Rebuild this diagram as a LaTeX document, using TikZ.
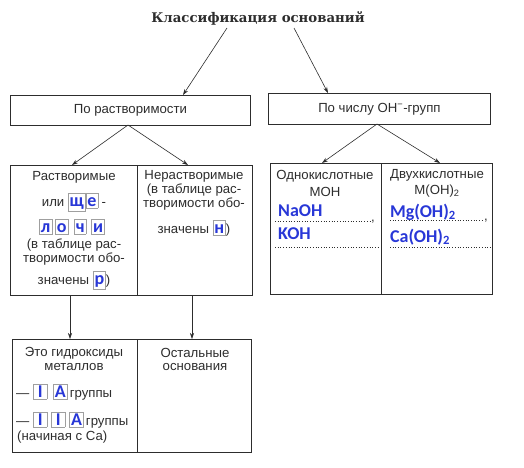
\documentclass[tikz,border=0pt]{standalone}
\usepackage{fontspec}
\setmainfont{Liberation Sans}
\newfontfamily\titlefont{DejaVu Serif}
\newfontfamily\hwfont{Carlito}
\usetikzlibrary{arrows.meta}
\definecolor{hwblue}{RGB}{40,55,215}
\definecolor{ink}{RGB}{45,45,45}
\newcommand\hbx[1]{{\fboxsep=1.2pt\fboxrule=0.5pt\fcolorbox{gray!75}{white}{\rule{0pt}{12pt}\hwfont\bfseries\fontsize{18}{18}\selectfont\color{hwblue}#1}}}
\newcommand\hw[1]{{\hwfont\bfseries\fontsize{18}{18}\selectfont\color{hwblue}#1}}
\begin{document}
\begin{tikzpicture}[x=1pt,y=-1pt,
  box/.style={draw=ink,line width=0.8pt,inner sep=0pt,anchor=north west},
  txt/.style={inner sep=0pt,font=\fontsize{13.2}{14}\selectfont,text=ink},
  arr/.style={draw=ink,line width=0.6pt,-{Stealth[length=6pt,width=4pt]}},
  dots/.style={draw=ink,dotted,line width=0.7pt}]
\useasboundingbox (0,0) rectangle (524,467);
% title
\node[inner sep=0pt,font=\titlefont\bfseries\fontsize{13.3}{15}\selectfont,text=ink] (title) at (258,18) {Классификация оснований};
\coordinate (t1) at (227,28);
\coordinate (t2) at (294,28);
% level 1
\node[box,minimum width=240pt,minimum height=30pt] (b1) at (10,95) {};
\node[txt] (b1t) at (b1.center) {По растворимости};
\node[box,minimum width=222pt,minimum height=31pt] (b2) at (268,93) {};
\node[txt] (b2t) at (b2.center) {По числу ОН\textsuperscript{−}-групп};
\coordinate (a1) at (183,95);
\coordinate (a2) at (328,93);
\draw[arr] (t1) -- (a1);
\draw[arr] (t2) -- (a2);
% level 2 left
\node[box,minimum width=127pt,minimum height=130pt] (A) at (10,165) {};
\node[box,minimum width=115pt,minimum height=130pt] (B) at (137,165) {};
\coordinate (b1s) at (128,125);
\coordinate (ta) at (72,165);
\coordinate (tb) at (188,165);
\draw[arr] (b1s) -- (ta);
\draw[arr] (b1s) -- (tb);
% level 2 right
\node[box,minimum width=111pt,minimum height=131pt] (C) at (270,163) {};
\node[box,minimum width=111pt,minimum height=131pt] (D) at (381,163) {};
\coordinate (b2s) at (377,124);
\coordinate (tc) at (322,163);
\coordinate (td) at (440,163);
\draw[arr] (b2s) -- (tc);
\draw[arr] (b2s) -- (td);
% level 3
\node[box,minimum width=125pt,minimum height=113pt] (E) at (12,339) {};
\node[box,minimum width=114pt,minimum height=113pt] (F) at (137,339) {};
\coordinate (sa) at (70,295);
\coordinate (sb) at (192,295);
\coordinate (te) at (70,339);
\coordinate (tf) at (192,339);
\draw[arr] (sa) -- (te);
\draw[arr] (sb) -- (tf);
% text A
\node[txt] (a1t) at (74,177) {Растворимые};
\node[txt] (a2t) at (74,202) {или \hbx{щ}\hbx{е} -};
\node[txt] (a3t) at (72,227) {\hbx{л}\hspace{3pt}\hbx{о}\hspace{6pt}\hbx{ч}\hspace{5pt}\hbx{и}};
\node[txt] (a4t) at (74,245) {(в таблице рас-};
\node[txt] (a5t) at (74,259) {творимости обо-};
\node[txt] (a6t) at (74,280) {значены \hbx{р})};
% text B
\node[txt] (bt1) at (194,176) {Нерастворимые};
\node[txt] (bt2) at (194,190) {(в таблице рас-};
\node[txt] (bt3) at (194,204) {творимости обо-};
\node[txt] (bt4) at (194,228) {значены \hbx{н})};
% text C
\node[txt] (ct1) at (325,176) {Однокислотные};
\node[txt] (ct2) at (325,192) {МОН};
\node[inner sep=0pt,anchor=west] (naoh) at (278,211) {\hw{NaOH}};
\coordinate (c1a) at (275,221);
\coordinate (c1b) at (370,221);
\draw[dots] (c1a) -- (c1b);
\node[txt,anchor=base west] (cc1) at (371,221) {,};
\node[inner sep=0pt,anchor=west] (koh) at (278,234) {\hw{KOH}};
\coordinate (c2a) at (275,247);
\coordinate (c2b) at (380,247);
\draw[dots] (c2a) -- (c2b);
% text D
\node[txt] (dt1) at (437,175) {Двухкислотные};
\node[txt] (dt2) at (437,191) {М(ОН)\textsubscript{2}};
\node[inner sep=0pt,anchor=west] (mgoh) at (390,212) {\hw{Mg(OH)\textsubscript{2}}};
\coordinate (d1a) at (390,220);
\coordinate (d1b) at (483,220);
\draw[dots] (d1a) -- (d1b);
\node[txt,anchor=base west] (dc1) at (484,220) {,};
\node[inner sep=0pt,anchor=west] (caoh) at (390,237) {\hw{Ca(OH)\textsubscript{2}}};
\coordinate (d2a) at (390,247);
\coordinate (d2b) at (490,247);
\draw[dots] (d2a) -- (d2b);
% text E
\node[txt] (et1) at (74,353) {Это гидроксиды};
\node[txt] (et2) at (74,367) {металлов};
\node[txt,anchor=west] (et3) at (16,392) {— \hbx{\,I\,}\hspace{6pt}\hbx{A}\,группы};
\node[txt,anchor=west] (et4) at (16,420) {— \hbx{\,I\,}\hspace{4pt}\hbx{\,I\,}\hspace{4pt}\hbx{A}\,группы};
\node[txt,anchor=west] (et5) at (17,437) {(начиная с Са)};
% text F
\node[txt] (ft1) at (195,353) {Остальные};
\node[txt] (ft2) at (195,367) {основания};
\end{tikzpicture}
\end{document}
